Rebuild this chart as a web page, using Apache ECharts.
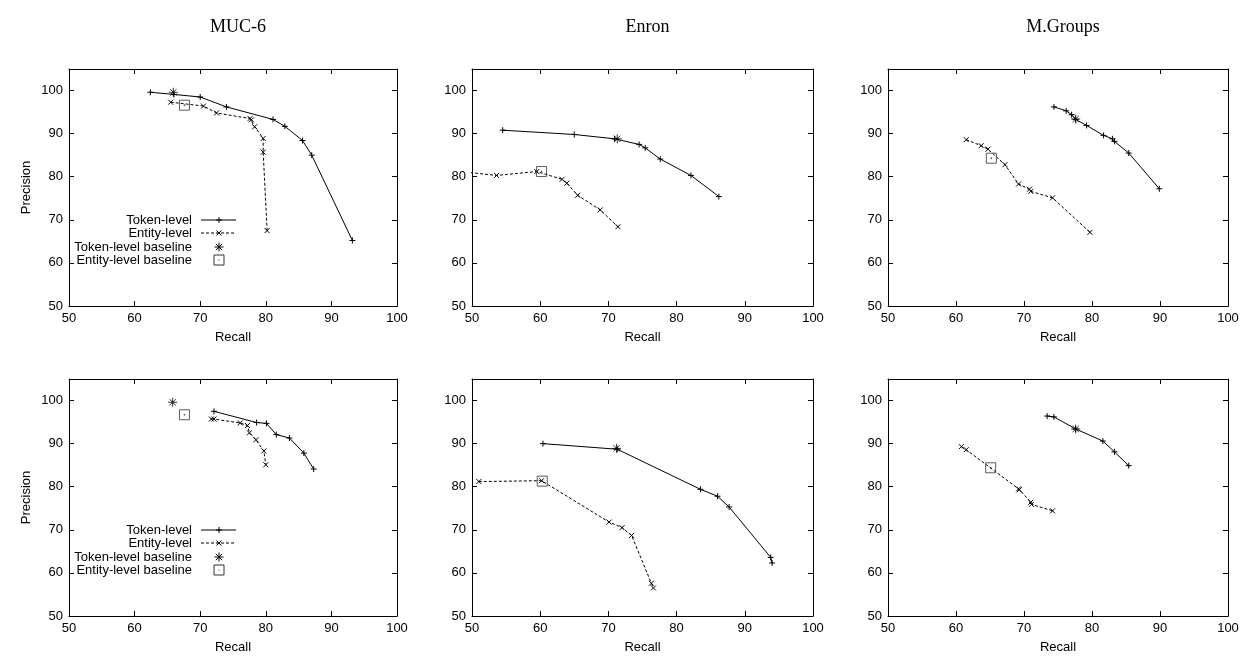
<!DOCTYPE html>
<html>
<head>
<meta charset="utf-8">
<title>Precision / Recall</title>
<script src="https://cdn.jsdelivr.net/npm/echarts@6/dist/echarts.min.js"></script>
<style>
  html, body { margin: 0; padding: 0; background: #fff; }
  #chart { width: 1245px; height: 656px; }
</style>
</head>
<body>
<div id="chart"></div>
<script>
// 标题和图例文字
const panelTitles = ['MUC-6', 'Enron', 'M.Groups']
const seriesNames = ['Token-level', 'Entity-level', 'Token-level baseline', 'Entity-level baseline']

// 坐标轴范围
const recallMin = 50, recallMax = 100, recallStep = 10
const precisionMin = 50, precisionMax = 105, precisionStep = 10

// ---- 上排 ----
const mucTokenTop = [[62.4, 99.6], [66.0, 99.1], [70.0, 98.5], [74.0, 96.2], [81.1, 93.3], [82.9, 91.7], [85.6, 88.4], [87.0, 85.0], [93.2, 65.2]]
const mucEntityTop = [[65.5, 97.3], [70.5, 96.4], [72.5, 94.8], [77.6, 93.5], [77.8, 93.2], [78.3, 91.6], [79.6, 88.9], [79.6, 85.7], [80.2, 67.5]]
const mucTokenBaseTop = [[65.9, 99.6]]
const mucEntityBaseTop = [[67.6, 96.6]]

const enronTokenTop = [[54.5, 90.8], [65.0, 89.8], [70.9, 88.8], [74.5, 87.5], [75.4, 86.7], [77.6, 84.1], [82.1, 80.3], [86.2, 75.4]]
const enronEntityTop = [[49.0, 81.1], [53.6, 80.3], [59.5, 81.2], [63.2, 79.4], [63.9, 78.5], [65.5, 75.7], [68.8, 72.3], [71.4, 68.4]]
const enronTokenBaseTop = [[71.3, 88.8]]
const enronEntityBaseTop = [[60.2, 81.2]]

const groupsTokenTop = [[74.4, 96.2], [76.2, 95.3], [77.0, 94.4], [77.6, 93.3], [79.2, 91.9], [81.7, 89.6], [83.0, 88.8], [83.3, 88.2], [85.4, 85.5], [89.9, 77.2]]
const groupsEntityTop = [[61.5, 88.6], [63.7, 87.2], [64.7, 86.4], [67.2, 82.8], [69.2, 78.3], [70.8, 77.1], [71.0, 76.6], [74.2, 75.1], [79.7, 67.1]]
const groupsTokenBaseTop = [[77.6, 93.4]]
const groupsEntityBaseTop = [[65.2, 84.3]]

// ---- 下排 ----
const mucTokenBottom = [[72.1, 97.5], [78.6, 94.9], [80.1, 94.7], [81.6, 92.1], [83.6, 91.3], [85.8, 87.8], [87.3, 84.1]]
const mucEntityBottom = [[71.7, 95.7], [72.1, 95.7], [76.1, 94.8], [77.2, 94.2], [77.5, 92.5], [78.5, 90.9], [79.7, 88.3], [80.0, 85.1]]
const mucTokenBaseBottom = [[65.8, 99.6]]
const mucEntityBaseBottom = [[67.6, 96.7]]

const enronTokenBottom = [[60.4, 90.0], [71.3, 88.7], [83.5, 79.4], [86.0, 77.8], [87.7, 75.3], [93.8, 63.6], [94.0, 62.3]]
const enronEntityBottom = [[51.0, 81.2], [60.2, 81.4], [70.1, 71.8], [72.0, 70.5], [73.4, 68.7], [76.3, 57.6], [76.6, 56.5]]
const enronTokenBaseBottom = [[71.2, 88.9]]
const enronEntityBaseBottom = [[60.3, 81.3]]

const groupsTokenBottom = [[73.4, 96.4], [74.4, 96.2], [77.6, 93.4], [81.6, 90.6], [83.3, 88.1], [85.4, 84.9]]
const groupsEntityBottom = [[60.8, 89.3], [61.5, 88.6], [69.2, 79.5], [69.3, 79.3], [71.0, 76.4], [71.1, 75.9], [74.2, 74.4]]
const groupsTokenBaseBottom = [[77.6, 93.4]]
const groupsEntityBaseBottom = [[65.1, 84.4]]

// 每个子图用到的数据 (按 grid 顺序)
const panels = [
  [mucTokenTop, mucEntityTop, mucTokenBaseTop, mucEntityBaseTop],
  [enronTokenTop, enronEntityTop, enronTokenBaseTop, enronEntityBaseTop],
  [groupsTokenTop, groupsEntityTop, groupsTokenBaseTop, groupsEntityBaseTop],
  [mucTokenBottom, mucEntityBottom, mucTokenBaseBottom, mucEntityBaseBottom],
  [enronTokenBottom, enronEntityBottom, enronTokenBaseBottom, enronEntityBaseBottom],
  [groupsTokenBottom, groupsEntityBottom, groupsTokenBaseBottom, groupsEntityBaseBottom]
]

// 布局
const colLeft = [69, 472, 888]
const colWidth = [328, 341, 340]
const rowTop = [69, 379]
const plotHeight = 237

const sans = '"Liberation Sans", Arial, sans-serif'
const serif = '"Liberation Serif", "Times New Roman", serif'

// gnuplot 风格的点 (线段, 0..10 的方框内)
const plusSegs = [[0, 5, 10, 5], [5, 0, 5, 10]]
const crossSegs = [[0, 0, 10, 10], [10, 0, 0, 10]]
const starSegs = [[0, 5, 10, 5], [5, 0, 5, 10], [1.5, 1.5, 8.5, 8.5], [8.5, 1.5, 1.5, 8.5]]
const toPath = segs => 'path://' + segs.map(s => `M${s[0]} ${s[1]}L${s[2]} ${s[3]}`).join('')
const plusPath = toPath(plusSegs)
const crossPath = toPath(crossSegs)
const starPath = toPath(starSegs)
const boxPath = 'path://M0 0L10 0L10 10L0 10Z M4.6 4.6L5.4 4.6L5.4 5.4L4.6 5.4Z'

const markerStyle = (c) => ({ color: 'rgba(0,0,0,0)', borderColor: c, borderWidth: 1 })

const grids = []
const xAxes = []
const yAxes = []
const series = []

panels.forEach((data, i) => {
  const col = i % 3
  const row = Math.floor(i / 3)
  grids.push({ left: colLeft[col], top: rowTop[row], width: colWidth[col], height: plotHeight, outerBoundsMode: 'none' })

  const axisLine = { onZero: false, lineStyle: { color: '#000', width: 1 } }
  const tick = { inside: true, length: 5, lineStyle: { color: '#000', width: 1 } }
  const label = { fontFamily: sans, fontSize: 13, color: '#000' }

  // 下 / 上 x 轴
  xAxes.push({
    gridIndex: i, type: 'value', position: 'bottom',
    min: recallMin, max: recallMax, interval: recallStep,
    name: 'Recall', nameLocation: 'middle', nameGap: 25,
    nameTextStyle: { fontFamily: sans, fontSize: 13, color: '#000' },
    axisLine, axisTick: tick, splitLine: { show: false },
    axisLabel: Object.assign({ margin: 6 }, label)
  })
  xAxes.push({
    gridIndex: i, type: 'value', position: 'top',
    min: recallMin, max: recallMax, interval: recallStep,
    axisLine, axisTick: tick, splitLine: { show: false }, axisLabel: { show: false }
  })

  // 左 / 右 y 轴
  yAxes.push({
    gridIndex: i, type: 'value', position: 'left',
    min: precisionMin, max: precisionMax, interval: precisionStep,
    name: col === 0 ? 'Precision' : '', nameLocation: 'middle', nameGap: 36, nameRotate: 90,
    nameTextStyle: { fontFamily: sans, fontSize: 13, color: '#000' },
    axisLine, axisTick: tick, splitLine: { show: false },
    axisLabel: Object.assign({ margin: 6, formatter: v => (v > 100 ? '' : v) }, label)
  })
  yAxes.push({
    gridIndex: i, type: 'value', position: 'right',
    min: precisionMin, max: precisionMax, interval: precisionStep,
    axisLine, axisTick: tick, splitLine: { show: false }, axisLabel: { show: false }
  })

  const ax = { xAxisIndex: 2 * i, yAxisIndex: 2 * i }
  series.push(Object.assign({
    name: seriesNames[0], type: 'line', data: data[0],
    symbol: plusPath, symbolSize: 6, clip: true,
    lineStyle: { color: '#000', width: 1 }, itemStyle: markerStyle('#000')
  }, ax))
  series.push(Object.assign({
    name: seriesNames[1], type: 'line', data: data[1],
    symbol: crossPath, symbolSize: 5, clip: true,
    lineStyle: { color: '#000', width: 1, type: [3, 2] }, itemStyle: markerStyle('#000')
  }, ax))
  series.push(Object.assign({
    name: seriesNames[2], type: 'scatter', data: data[2],
    symbol: starPath, symbolSize: 9, itemStyle: markerStyle('#000'), z: 3
  }, ax))
  series.push(Object.assign({
    name: seriesNames[3], type: 'scatter', data: data[3],
    symbol: boxPath, symbolSize: 10, itemStyle: markerStyle('#333'), z: 3
  }, ax))
})

// 图例 (左列两张图内部), 用 graphic 画
const legendRows = [220, 530]
const legendMarkerX = 219
const graphic = []
const segLines = (segs, cx, cy, size) => segs.map(s => ({
  type: 'line',
  shape: {
    x1: cx + (s[0] - 5) * size / 10, y1: cy + (s[1] - 5) * size / 10,
    x2: cx + (s[2] - 5) * size / 10, y2: cy + (s[3] - 5) * size / 10
  },
  style: { stroke: '#000', lineWidth: 1 }
}))
legendRows.forEach(y0 => {
  seriesNames.forEach((name, k) => {
    const y = Math.round(y0 + k * 13.3)
    graphic.push({
      type: 'text', x: 192, y,
      style: { text: name, align: 'right', verticalAlign: 'middle', font: '13px ' + sans, fill: '#000' }
    })
    if (k < 2) {
      graphic.push({
        type: 'line', shape: { x1: 201, y1: y, x2: 236, y2: y },
        style: { stroke: '#000', lineWidth: 1, lineDash: k === 1 ? [3, 2] : null }
      })
    }
    if (k === 0) graphic.push(...segLines(plusSegs, legendMarkerX, y, 6))
    if (k === 1) graphic.push(...segLines(crossSegs, legendMarkerX, y, 5))
    if (k === 2) graphic.push(...segLines(starSegs, legendMarkerX, y, 9))
    if (k === 3) {
      graphic.push({
        type: 'rect', shape: { x: legendMarkerX - 5, y: y - 5, width: 10, height: 10 },
        style: { stroke: '#333', fill: null, lineWidth: 1 }
      })
      graphic.push({
        type: 'rect', shape: { x: legendMarkerX - 0.5, y: y - 0.5, width: 1, height: 1 },
        style: { stroke: null, fill: '#333' }
      })
    }
  })
})

const option = {
  animation: false,
  backgroundColor: '#fff',
  title: panelTitles.map((t, c) => ({
    text: t, left: colLeft[c] + colWidth[c] / 2, top: 13, textAlign: 'center',
    textStyle: { fontFamily: serif, fontSize: 18, fontWeight: 'normal', color: '#000' }
  })),
  grid: grids,
  xAxis: xAxes,
  yAxis: yAxes,
  series,
  graphic
}

const chart = echarts.init(document.getElementById('chart'))
chart.setOption(option)
</script>
</body>
</html>
